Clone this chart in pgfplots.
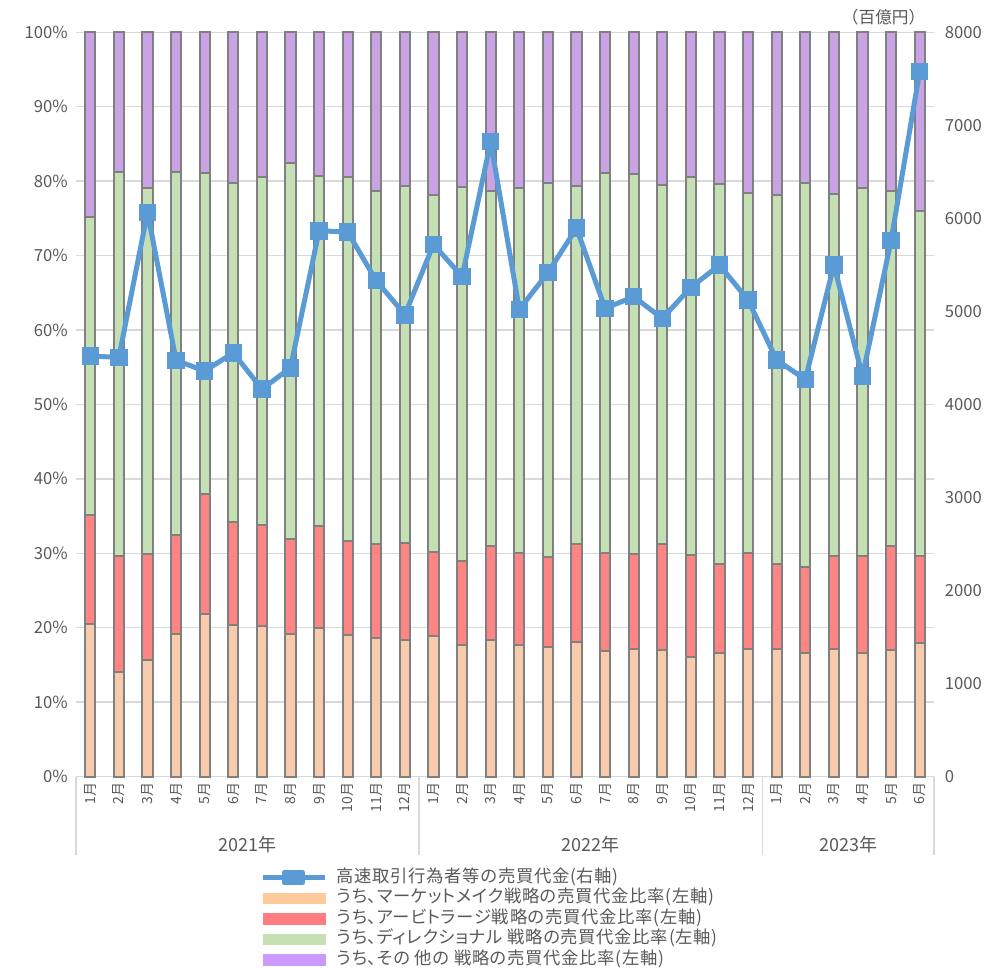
\documentclass[border=0pt]{standalone}
\usepackage{fontspec}
\setmainfont{Noto Sans CJK JP}
\newfontfamily\legfont[RawFeature=+palt, LetterSpace=4]{Noto Sans CJK JP}
\usepackage{pgfplots}
\pgfplotsset{compat=1.18}
\usepackage{pgfplotstable}
\definecolor{txt}{HTML}{595959}
\definecolor{gridc}{HTML}{D9D9D9}
\definecolor{bord}{HTML}{808080}
\definecolor{c1}{HTML}{F8CBAD}
\definecolor{c2}{HTML}{FF8585}
\definecolor{c3}{HTML}{C5E0B4}
\definecolor{c4}{HTML}{C9A3E3}
\definecolor{l1}{HTML}{FFC999}
\definecolor{l2}{HTML}{FF7C80}
\definecolor{l3}{HTML}{C5E0B4}
\definecolor{l4}{HTML}{CC99FF}
\definecolor{hftc}{HTML}{5B9BD5}

\pgfplotstableread{
x mm arb dir oth hft
0 20.5 14.6 40.1 24.8 4520
1 14.1 15.5 51.6 18.8 4506
2 15.7 14.2 49.2 20.9 6065
3 19.2 13.3 48.7 18.8 4474
4 21.9 16.0 43.2 18.9 4359
5 20.3 13.9 45.6 20.2 4555
6 20.2 13.6 46.8 19.4 4165
7 19.1 12.8 50.6 17.5 4394
8 19.9 13.7 47.1 19.3 5867
9 19.0 12.7 48.9 19.4 5853
10 18.6 12.7 47.4 21.3 5330
11 18.4 13.0 47.9 20.7 4964
12 18.9 11.3 48.0 21.8 5721
13 17.7 11.2 50.3 20.8 5373
14 18.4 12.6 47.7 21.3 6825
15 17.7 12.4 49.0 20.9 5022
16 17.4 12.1 50.3 20.2 5416
17 18.1 13.2 48.0 20.7 5895
18 16.9 13.2 51.0 18.9 5033
19 17.1 12.8 51.0 19.1 5158
20 17.0 14.2 48.3 20.5 4925
21 16.0 13.8 50.8 19.4 5259
22 16.6 11.9 51.1 20.4 5498
23 17.2 12.8 48.4 21.6 5122
24 17.1 11.4 49.6 21.9 4477
25 16.6 11.6 51.5 20.3 4269
26 17.2 12.4 48.7 21.7 5498
27 16.6 13.1 49.4 20.9 4305
28 17.0 14.0 47.7 21.3 5762
29 17.9 11.8 46.3 24.0 7580
}\datatable

\begin{document}
\begin{tikzpicture}
\useasboundingbox (-57pt,-143.6pt) rectangle (690pt,582.4pt);
\begin{axis}[
  at={(0,0)}, anchor=south west, scale only axis,
  width=643.5pt, height=558.15pt,
  xmin=-0.5, xmax=29.5, ymin=0, ymax=100,
  ybar stacked, bar width=0.36,
  axis line style={draw=none}, tick style={draw=none}, major tick length=0pt,
  ymajorgrids, grid style={draw=gridc, line width=1.1pt},
  ytick={0,10,20,30,40,50,60,70,80,90,100},
  yticklabels={0\%,10\%,20\%,30\%,40\%,50\%,60\%,70\%,80\%,90\%,100\%},
  yticklabel style={font=\fontsize{12.5}{14}\selectfont, text=txt, inner sep=0pt, xshift=-6pt},
  xtick={0,1,2,3,4,5,6,7,8,9,10,11,12,13,14,15,16,17,18,19,20,21,22,23,24,25,26,27,28,29},
  xticklabels={1月,2月,3月,4月,5月,6月,7月,8月,9月,10月,11月,12月,1月,2月,3月,4月,5月,6月,7月,8月,9月,10月,11月,12月,1月,2月,3月,4月,5月,6月},
  xticklabel style={font=\fontsize{10.5}{12}\selectfont, text=txt, rotate=90, anchor=east, inner xsep=4.5pt, inner ysep=0pt},
  clip=false,
]
\addplot[fill=c1, draw=bord, line width=1.5pt] table[x=x,y=mm]{\datatable};
\addplot[fill=c2, draw=bord, line width=1.5pt] table[x=x,y=arb]{\datatable};
\addplot[fill=c3, draw=bord, line width=1.5pt] table[x=x,y=dir]{\datatable};
\addplot[fill=c4, draw=bord, line width=1.5pt] table[x=x,y=oth]{\datatable};
\draw[gridc, line width=1.1pt] (axis cs:-0.5,0) -- (axis cs:29.5,0);
\draw[gridc, line width=1.1pt] (axis cs:-0.5,0) -- ++(0pt,-58.5pt);
\draw[gridc, line width=1.1pt] (axis cs:11.5,0) -- ++(0pt,-58.5pt);
\draw[gridc, line width=1.1pt] (axis cs:23.5,0) -- ++(0pt,-58.5pt);
\draw[gridc, line width=1.1pt] (axis cs:29.5,0) -- ++(0pt,-58.5pt);
\node[font=\fontsize{13.5}{15}\selectfont, text=txt, yshift=-51pt] at (axis cs:5.5,0) {2021年};
\node[font=\fontsize{13.5}{15}\selectfont, text=txt, yshift=-51pt] at (axis cs:17.5,0) {2022年};
\node[font=\fontsize{13.5}{15}\selectfont, text=txt, yshift=-51pt] at (axis cs:26.5,0) {2023年};
\node[font=\fontsize{12.5}{14}\selectfont, text=txt, anchor=east, xshift=-3pt, yshift=11pt] at (rel axis cs:1,1) {（百億円）};
\end{axis}
\begin{axis}[
  at={(0,0)}, anchor=south west, scale only axis,
  width=643.5pt, height=558.15pt,
  xmin=-0.5, xmax=29.5, ymin=0, ymax=8000,
  axis y line*=right, axis x line=none,
  axis line style={draw=none}, tick style={draw=none}, major tick length=0pt,
  ytick={0,1000,2000,3000,4000,5000,6000,7000,8000},
  yticklabels={0,1000,2000,3000,4000,5000,6000,7000,8000},
  yticklabel style={font=\fontsize{12.5}{14}\selectfont, text=txt, inner sep=0pt, anchor=west, xshift=8pt},
  xtick=\empty,
  clip=false,
  legend cell align=left,
  legend style={at={(0.2145,-0.1243)}, anchor=north west, draw=none, fill=none, inner sep=0pt,
    font=\legfont\fontsize{13}{14}\selectfont, text=txt, row sep=2.9pt,
    nodes={inner sep=0pt, text height=9.8pt, text depth=2.7pt},
    /tikz/every odd column/.append style={column sep=7pt}},
]
\addplot[color=hftc, line width=3.75pt, line join=round, mark=square*, mark size=6.2pt, mark options={solid, fill=hftc, draw=hftc, line width=0pt},
  legend image code/.code={\draw[hftc, line width=3.75pt] (0pt,0pt) -- (46.5pt,0pt); \fill[hftc] (16pt,-3.9pt) rectangle (30pt,3.9pt);}]
  table[x=x,y=hft]{\datatable};
\addlegendentry{高速取引行為者等の売買代金(右軸)}
\addlegendimage{legend image code/.code={\fill[l1] (0pt,-4pt) rectangle (46.5pt,4pt);}}
\addlegendentry{うち、マーケットメイク戦略の売買代金比率(左軸)}
\addlegendimage{legend image code/.code={\fill[l2] (0pt,-4pt) rectangle (46.5pt,4pt);}}
\addlegendentry{うち、アービトラージ戦略の売買代金比率(左軸)}
\addlegendimage{legend image code/.code={\fill[l3] (0pt,-4pt) rectangle (46.5pt,4pt);}}
\addlegendentry{うち、ディレクショナル 戦略の売買代金比率(左軸)}
\addlegendimage{legend image code/.code={\fill[l4] (0pt,-4pt) rectangle (46.5pt,4pt);}}
\addlegendentry{うち、その 他の 戦略の売買代金比率(左軸)}
\end{axis}
\end{tikzpicture}
\end{document}
